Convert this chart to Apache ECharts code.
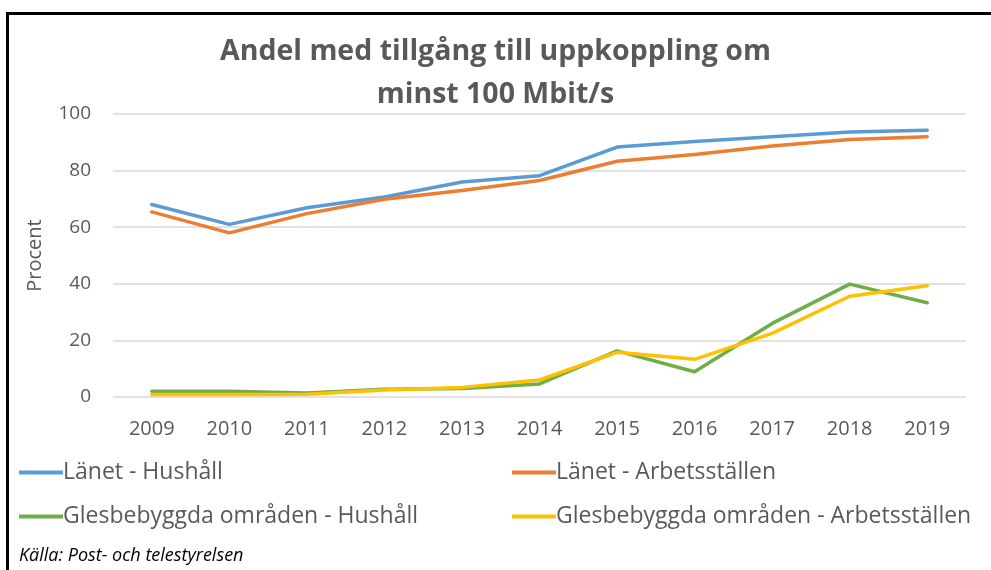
<!DOCTYPE html>
<html>
<head>
<meta charset="utf-8">
<script src="https://cdn.jsdelivr.net/npm/echarts@6/dist/echarts.min.js"></script>
<style>
  html, body { margin: 0; padding: 0; background: #fff; }
  #main { width: 991px; height: 570px; }
  #frame { position: absolute; left: 6px; top: 12px; width: 982px; height: 600px;
           border-top: 3px solid #000; border-left: 3px solid #000; border-right: 1px solid #bfbfbf;
           pointer-events: none; }
</style>
</head>
<body>
<div id="main"></div>
<div id="frame"></div>
<script>
// årtal och andelar (procent)
var years = ['2009','2010','2011','2012','2013','2014','2015','2016','2017','2018','2019'];
var lanetHushall = [68.0, 61.0, 66.9, 70.7, 76.0, 78.2, 88.3, 90.3, 92.0, 93.6, 94.3];
var lanetArbete = [65.4, 58.0, 64.8, 69.9, 73.0, 76.5, 83.3, 85.7, 88.7, 91.0, 92.0];
var glesHushall = [2.0, 2.0, 1.4, 2.7, 3.0, 4.6, 16.3, 8.9, 26.0, 39.9, 33.3];
var glesArbete = [0.9, 0.9, 1.0, 2.5, 3.4, 6.0, 15.8, 13.3, 22.5, 35.6, 39.3];
var seriesNames = ['Länet - Hushåll', 'Länet - Arbetsställen',
                   'Glesbebyggda områden - Hushåll', 'Glesbebyggda områden - Arbetsställen'];
var colors = ['#5B9BD5', '#ED7D31', '#70AD47', '#FFC000'];

var chart = echarts.init(document.getElementById('main'));
var font = 'Open Sans';

function line(name, data, color) {
    return {
        name: name, type: 'line', data: data, symbol: 'none',
        lineStyle: { width: 3.5, color: color, cap: 'round', join: 'round' },
        itemStyle: { color: color }
    };
}

function legendAt(idx, left, top) {
    return {
        data: [seriesNames[idx]], left: left, top: top, itemWidth: 44, itemHeight: 4,
        icon: 'rect', textStyle: { color: '#595959', fontSize: 23, padding: [0, 0, 0, -5] }
    };
}

var option = {
    animation: false,
    textStyle: { fontFamily: font },
    title: {
        text: 'Andel med tillgång till uppkoppling om\nminst 100 Mbit/s',
        left: 'center', top: 25,
        textStyle: { fontSize: 28.5, fontWeight: 'bold', color: '#595959', lineHeight: 43, fontFamily: font }
    },
    grid: { left: 113, right: 25, top: 114, bottom: 173 },
    xAxis: {
        type: 'category', data: years, boundaryGap: true,
        axisLine: { show: false }, axisTick: { show: false },
        axisLabel: { color: '#595959', fontSize: 20, margin: 22 }
    },
    yAxis: {
        type: 'value', min: 0, max: 100, interval: 20,
        name: 'Procent', nameLocation: 'middle', nameGap: 68,
        nameTextStyle: { color: '#595959', fontSize: 20 },
        axisLine: { show: false }, axisTick: { show: false },
        axisLabel: { color: '#595959', fontSize: 19, margin: 22 },
        splitLine: { lineStyle: { color: '#d9d9d9', width: 1.5 } }
    },
    legend: [
        legendAt(0, 14, 456),
        legendAt(1, 507, 456),
        legendAt(2, 14, 500),
        legendAt(3, 507, 500)
    ],
    graphic: [{
        type: 'text', left: 19, top: 547,
        style: { text: 'Källa: Post- och telestyrelsen', font: 'italic 18px "Open Sans"', fill: '#000' }
    }],
    series: [
        line(seriesNames[0], lanetHushall, colors[0]),
        line(seriesNames[1], lanetArbete, colors[1]),
        line(seriesNames[2], glesHushall, colors[2]),
        line(seriesNames[3], glesArbete, colors[3])
    ]
};
option && chart.setOption(option);
</script>
</body>
</html>
